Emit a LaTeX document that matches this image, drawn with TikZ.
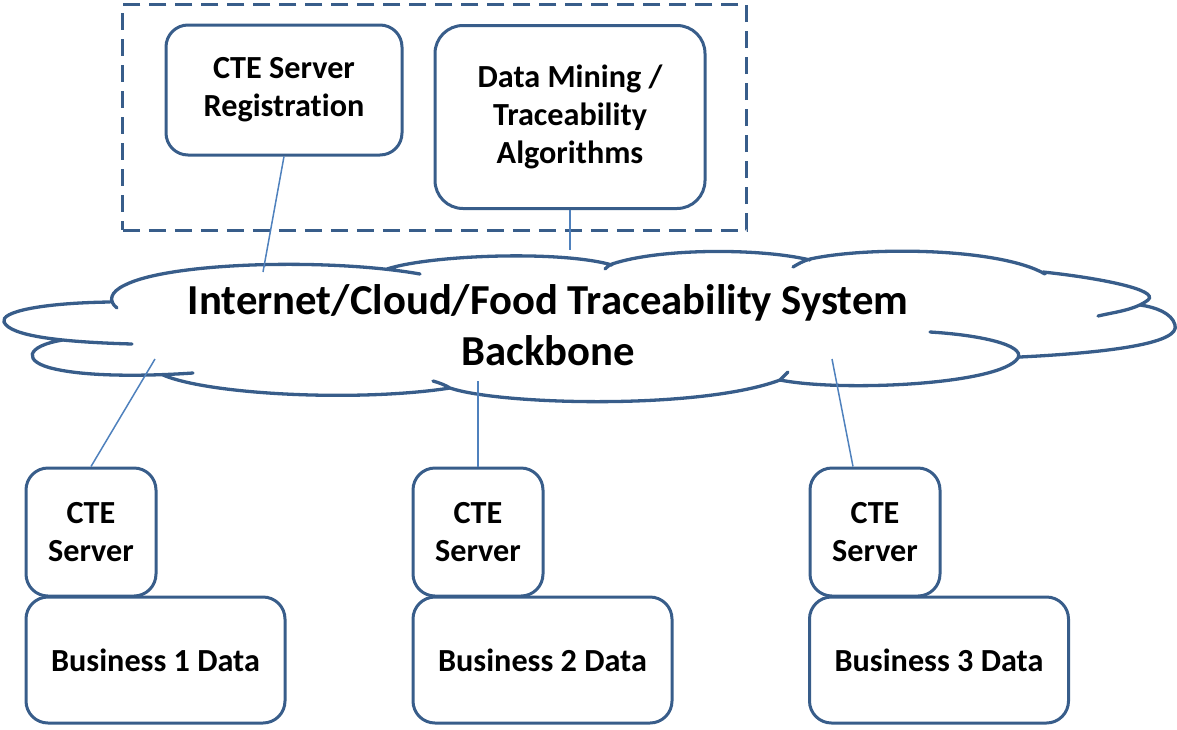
\documentclass[tikz,border=0pt]{standalone}
\usepackage{fontspec}
\setmainfont{Carlito}[Ligatures=NoCommon]
\definecolor{edge}{RGB}{56,93,138}
\definecolor{wire}{RGB}{79,129,189}
\newcommand\boxfont{\fontsize{32.2}{38}\selectfont\bfseries}
\newcommand\cloudfont{\fontsize{42.7}{51}\selectfont\bfseries}
\tikzset{
  box/.style={draw=edge, line width=3pt, rounded corners=22pt, align=center,
              font=\boxfont, inner sep=0pt},
  groupbox/.style={draw=edge, line width=3pt, dash pattern=on 17pt off 9pt,
                   inner sep=0pt},
  wireline/.style={draw=wire, line width=1.5pt},
  cloudline/.style={draw=edge, line width=3.3pt, line cap=round},
}
\begin{document}
\begin{tikzpicture}[x=1pt,y=-1pt]
\useasboundingbox (0,0) rectangle (1177,729);

% server-side group
\node[groupbox, minimum width=624pt, minimum height=225.5pt] (grp) at (434.9,117.3) {};
\node[box, minimum width=236pt, minimum height=130pt] (reg) at (284,90) {CTE Server\\Registration};
\node[box, minimum width=270pt, minimum height=183pt, rounded corners=28pt] (mine) at (570,117) {Data Mining /\\Traceability\\Algorithms};

% backbone cloud outline, lobe by lobe
\draw[cloudline]
  % upper-left lobe with its hook
  (117,308) .. controls (108,301) and (110,292) .. (125,285)
            .. controls (170,262) and (330,258) .. (420,274)
  % leftmost lobe
  (110,302) .. controls (40,303) and (0,312) .. (4,322)
            .. controls (10,336) and (60,342) .. (132,344)
  % lower-left lobe
  (63,340) .. controls (25,346) and (22,362) .. (55,369)
           .. controls (90,377) and (150,376) .. (193,373)
  % bottom lobes
  (163,375) .. controls (210,395) and (360,402) .. (450,388)
  (433,381) .. controls (440,383) and (445,385) .. (450,388)
            .. controls (500,405) and (700,410) .. (780,380)
            .. controls (783,377) and (785,375) .. (788,372)
  (780,380) .. controls (840,392) and (1000,385) .. (1018,358)
            .. controls (1025,345) and (980,335) .. (930,332)
  % right lobes
  (1020,357) .. controls (1120,352) and (1180,342) .. (1175,325)
             .. controls (1172,313) and (1155,307) .. (1140,305)
  (1043,272) .. controls (1100,278) and (1160,290) .. (1148,300)
             .. controls (1135,310) and (1115,312) .. (1098,316)
  % top lobes
  (793,267) .. controls (798,264) and (803,261) .. (810,259)
            .. controls (870,246) and (1000,248) .. (1045,274)
  (605,269) .. controls (607,267) and (609,265) .. (612,264)
            .. controls (660,248) and (760,248) .. (810,260)
  (387,269) .. controls (430,255) and (560,250) .. (612,265);
\node[font=\cloudfont, align=center, inner sep=0pt] (cloud) at (548,325)
  {Internet/Cloud/Food Traceability System\\Backbone};

% business sites
\node[box, minimum width=130pt, minimum height=128pt] (cte1) at (91,532) {CTE\\Server};
\node[box, minimum width=130pt, minimum height=128pt] (cte2) at (478,532) {CTE\\Server};
\node[box, minimum width=130pt, minimum height=128pt] (cte3) at (875,532) {CTE\\Server};
\node[box, minimum width=259pt, minimum height=126pt] (biz1) at (155.5,660) {Business 1 Data};
\node[box, minimum width=259pt, minimum height=126pt] (biz2) at (542.5,660) {Business 2 Data};
\node[box, minimum width=259pt, minimum height=126pt] (biz3) at (939,660) {Business 3 Data};

% links into the backbone
\coordinate (regEnd) at (263,272);
\coordinate (mineEnd) at (570,250);
\coordinate (in1) at (155,359);
\coordinate (in2) at (478,381);
\coordinate (in3) at (832,359);
\draw[wireline] (reg.south) -- (regEnd);
\draw[wireline] (mine.south) -- (mineEnd);
\draw[wireline] (in1) -- (cte1.north);
\draw[wireline] (in2) -- (cte2.north);
\draw[wireline] (in3) -- ([xshift=-22pt]cte3.north);
\end{tikzpicture}
\end{document}
